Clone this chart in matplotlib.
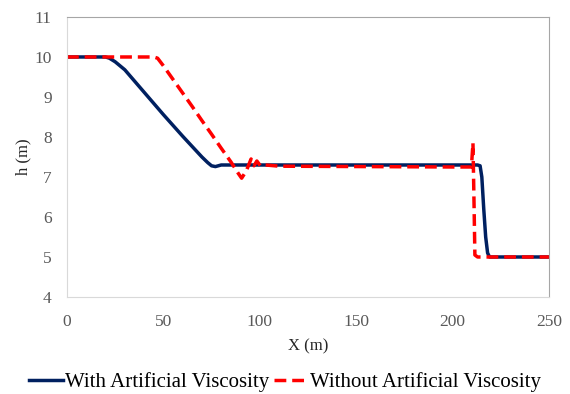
import matplotlib.pyplot as plt

plt.rcParams['font.family'] = ['Liberation Serif', 'DejaVu Serif']

# water depth profiles along the channel
x_visc = [0, 20, 22, 25, 30, 35, 40, 45, 50, 55, 60, 65, 70, 73, 75, 77, 80, 85,
          213, 214.3, 215.2, 216.2, 217.2, 218.2, 219.2, 250]
h_visc = [10, 10, 9.97, 9.88, 9.68, 9.4, 9.12, 8.84, 8.56, 8.29, 8.02, 7.76, 7.5,
          7.36, 7.28, 7.26, 7.3, 7.3, 7.3, 7.28, 7.0, 6.2, 5.5, 5.1, 5.0, 5.0]

x_novisc = [0, 45, 47, 50, 55, 60, 65, 70, 75, 80, 85, 89, 90.6, 93, 95.5, 97, 98.5,
            100.5, 103, 110, 200, 209.8, 210.6, 211.1, 211.6, 213, 250]
h_novisc = [10, 10, 9.97, 9.78, 9.44, 9.1, 8.76, 8.41, 8.07, 7.72, 7.38, 7.08, 6.97,
            7.15, 7.45, 7.28, 7.4, 7.27, 7.3, 7.27, 7.25, 7.25, 7.85, 6.5, 5.05, 5.0, 5.0]

xticks = [0, 50, 100, 150, 200, 250]
yticks = [4, 5, 6, 7, 8, 9, 10, 11]

fig = plt.figure(figsize=(5.7, 3.94), dpi=100)
ax = fig.add_axes([0.1175, 0.2462, 0.8455, 0.7107])

ax.plot(x_visc, h_visc, color='#002060', lw=2.5, label='With Artificial Viscosity',
        solid_joinstyle='round')
ax.plot(x_novisc, h_novisc, color='#FF0000', lw=2.5, dashes=(3.4, 1.7),
        label='Without Artificial Viscosity')

ax.set_xlim(0, 250)
ax.set_ylim(4, 11)
ax.set_xticks(xticks)
ax.set_yticks(yticks)
ax.tick_params(length=0, labelsize=12.5, colors='#595959')
ax.tick_params(axis='x', pad=12)
ax.tick_params(axis='y', pad=11)
ax.spines['top'].set_color('#A6A6A6')
ax.spines['right'].set_color('#A6A6A6')
ax.spines['left'].set_color('#D9D9D9')
ax.spines['bottom'].set_color('#D9D9D9')

ax.set_xlabel('X (m)', fontsize=12, color='#262626', labelpad=6)
ax.set_ylabel('h (m)', fontsize=12, color='#262626', labelpad=2)

fig.legend(loc='center', bbox_to_anchor=(0.5, 0.03), ncol=2, frameon=False,
           fontsize=15, handlelength=1.6, handletextpad=0.1, columnspacing=0.25)

fig.savefig('out.png', dpi=100)
